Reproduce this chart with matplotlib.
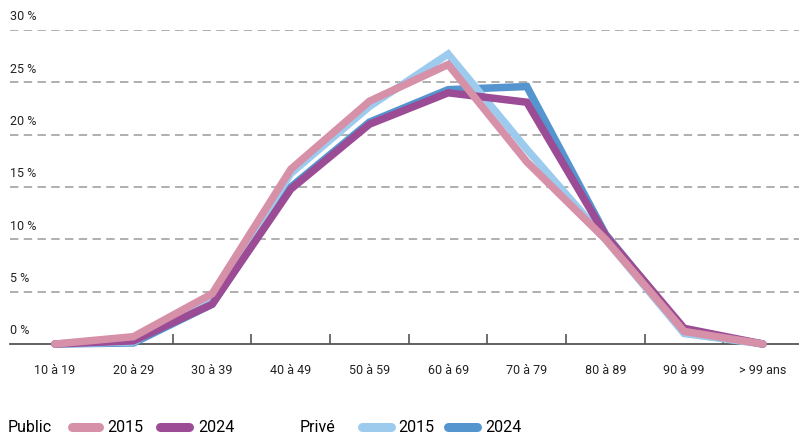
import matplotlib.pyplot as plt
from matplotlib.lines import Line2D

plt.rcParams["font.family"] = ["Roboto", "DejaVu Sans"]

categories = ["10 à 19", "20 à 29", "30 à 39", "40 à 49", "50 à 59",
              "60 à 69", "70 à 79", "80 à 89", "90 à 99", "> 99 ans"]

public_2015 = [0.0, 0.7, 4.8, 16.7, 23.2, 26.7, 17.4, 10.0, 1.2, 0.0]
public_2024 = [0.0, 0.3, 3.8, 14.8, 21.0, 24.0, 23.1, 10.4, 1.5, 0.0]
prive_2015 = [0.0, 0.2, 4.4, 16.3, 22.7, 27.7, 18.6, 10.0, 1.0, 0.0]
prive_2024 = [0.0, 0.1, 3.8, 15.0, 21.2, 24.3, 24.6, 10.5, 1.3, 0.0]

y_ticks = [0, 5, 10, 15, 20, 25, 30]

c_pub15 = "#d690a8"
c_pub24 = "#9c4b95"
c_pri15 = "#9ccbee"
c_pri24 = "#5495cf"

fig = plt.figure(figsize=(7.99, 4.34), dpi=100)
ax = fig.add_axes([10 / 799, 90 / 434, 789 / 799, 314 / 434])

x = list(range(len(categories)))
lw = 5.4
style = dict(lw=lw, solid_capstyle="round", solid_joinstyle="miter", clip_on=False)
ax.plot(x, prive_2024, color=c_pri24, zorder=3, **style)
ax.plot(x, prive_2015, color=c_pri15, zorder=4, **style)
ax.plot(x, public_2024, color=c_pub24, zorder=5, **style)
ax.plot(x, public_2015, color=c_pub15, zorder=6, **style)

ax.set_xlim(-0.57, 9.46)
ax.set_ylim(0, 30)

# dashed grid + labels sitting above each line
for v in y_ticks:
    if v > 0:
        ax.axhline(v, color="#9a9a9a", lw=1.1, ls=(0, (5.5, 3.5)), zorder=1)
    ax.text(0, v + 1.25, f"{v} %", transform=ax.get_yaxis_transform(),
            ha="left", va="center", fontsize=9, color="#222222")

for s in ["top", "right", "left"]:
    ax.spines[s].set_visible(False)
ax.spines["bottom"].set_color("#555555")
ax.spines["bottom"].set_linewidth(1.3)
ax.set_yticks([])
ax.set_xticks([i + 0.5 for i in range(1, 9)])
ax.set_xticklabels([])
ax.tick_params(axis="x", direction="in", length=7, width=1.2, color="#555555")

for i, c in enumerate(categories):
    ax.text(i, -2.5, c, ha="center", va="center", fontsize=9, color="#222222")

# legend drawn by hand
ly = 6 / 434
def swatch(x0, x1, color):
    fig.add_artist(Line2D([x0 / 799, x1 / 799], [ly + 0.003, ly + 0.003], color=color,
                          lw=6.5, solid_capstyle="round", transform=fig.transFigure))

fig.text(8 / 799, ly, "Public", fontsize=11.5, va="center", ha="left")
swatch(72, 99, c_pub15)
fig.text(107 / 799, ly, "2015", fontsize=11.5, va="center", ha="left")
swatch(160, 189, c_pub24)
fig.text(198 / 799, ly, "2024", fontsize=11.5, va="center", ha="left")
fig.text(300 / 799, ly, "Privé", fontsize=11.5, va="center", ha="left")
swatch(362, 391, c_pri15)
fig.text(398 / 799, ly, "2015", fontsize=11.5, va="center", ha="left")
swatch(448, 477, c_pri24)
fig.text(485 / 799, ly, "2024", fontsize=11.5, va="center", ha="left")

fig.savefig("out.png", dpi=100)
